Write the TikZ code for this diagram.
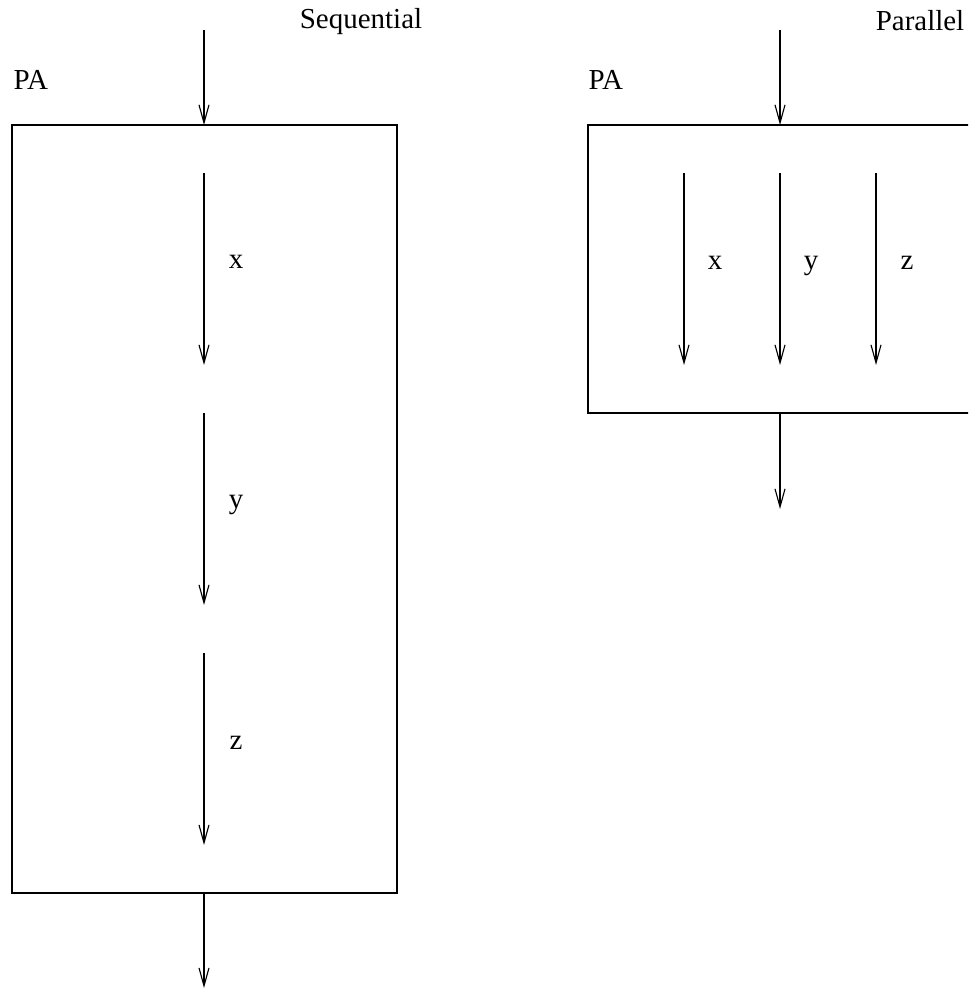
\documentclass[tikz,border=0pt]{standalone}
\usepackage{fontspec}
\setmainfont{Liberation Serif}
\usetikzlibrary{arrows.meta}

\tikzset{
  lbl/.style={anchor=base,inner sep=0pt,font=\fontsize{10.3}{12}\selectfont},
  flow/.style={->,line width=0.4pt}
}

\begin{document}
\begin{tikzpicture}[x=0.0125cm,y=-0.0125cm,>={Straight Barb[length=0.225cm,width=0.125cm]},line width=0.4pt]
\useasboundingbox (0,0) rectangle (968,991);
\clip (0,0) rectangle (968,991);

% sequential
\draw (12,125) rectangle (397,893);
\node[lbl] (seqtitle) at (361,29) {Sequential};
\node[lbl,anchor=base west] (seqpa) at (13,90) {PA};
\coordinate (sin) at (204,30);
\coordinate (stop) at (204,125);
\coordinate (sbot) at (204,893);
\coordinate (sout) at (204,988);
\draw[flow] (sin) -- (stop);
\draw[flow] (sbot) -- (sout);
\foreach \n/\a in {x/173,y/413,z/653}{
  \coordinate (s\n a) at (204,\a);
  \coordinate (s\n b) at (204,\a+192);
  \draw[flow] (s\n a) -- (s\n b);
  \node[lbl] (s\n) at (236,\a+96) {\n};
}

% parallel
\draw (588,125) rectangle (1000,413);
\node[lbl] (partitle) at (920,31) {Parallel};
\node[lbl,anchor=base west] (parpa) at (588,90) {PA};
\coordinate (pin) at (780,30);
\coordinate (ptop) at (780,125);
\coordinate (pbot) at (780,413);
\coordinate (pout) at (780,509);
\draw[flow] (pin) -- (ptop);
\draw[flow] (pbot) -- (pout);
\foreach \n/\c in {x/684,y/780,z/876}{
  \coordinate (p\n a) at (\c,173);
  \coordinate (p\n b) at (\c,365);
  \draw[flow] (p\n a) -- (p\n b);
  \node[lbl] (p\n) at (\c+31,270) {\n};
}

\end{tikzpicture}
\end{document}
